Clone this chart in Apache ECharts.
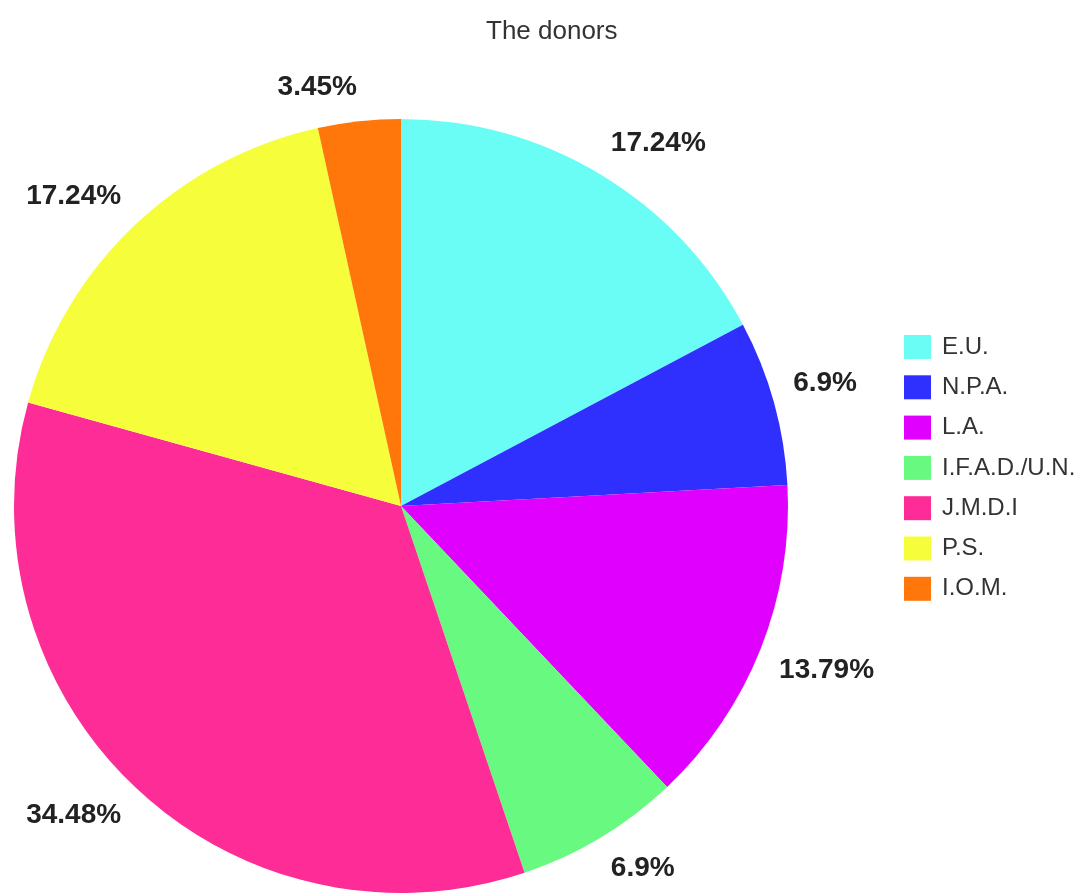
<!DOCTYPE html>
<html>
<head>
<meta charset="utf-8">
<script src="https://cdn.jsdelivr.net/npm/echarts@6/dist/echarts.min.js"></script>
<style>
html,body{margin:0;padding:0;background:#fff;}
#chart{width:1089px;height:895px;}
</style>
</head>
<body>
<div id="chart"></div>
<script>
var categories = ['E.U.', 'N.P.A.', 'L.A.', 'I.F.A.D./U.N.', 'J.M.D.I', 'P.S.', 'I.O.M.'];
var values = [5, 2, 4, 2, 10, 5, 1];
var percentLabels = ['17.24%', '6.9%', '13.79%', '6.9%', '34.48%', '17.24%', '3.45%'];
var colors = ['#6AFDF6', '#3030FE', '#DF00FE', '#68FA80', '#FE2C96', '#F6FE3C', '#FF760A'];

var total = values.reduce(function(a, b){ return a + b; }, 0);
var midAngles = [];
var acc = 0;
values.forEach(function(v){ midAngles.push((acc + v / 2) / total * 2 * Math.PI); acc += v; });

var chart = echarts.init(document.getElementById('chart'));
chart.setOption({
  backgroundColor: '#ffffff',
  animation: false,
  title: {
    text: 'The donors',
    left: 481,
    top: 14,
    textStyle: { fontFamily: 'Liberation Sans, Arial, sans-serif', fontSize: 26, fontWeight: 'normal', color: '#333333' }
  },
  legend: {
    orient: 'vertical',
    left: 899,
    top: 330,
    itemWidth: 27,
    itemHeight: 24,
    itemGap: 16.3,
    icon: 'rect',
    data: categories,
    textStyle: { fontFamily: 'Liberation Sans, Arial, sans-serif', fontSize: 24, color: '#333333', padding: [0, 0, 0, 6] }
  },
  series: [{
    type: 'pie',
    center: [401, 506],
    radius: 387,
    startAngle: 90,
    clockwise: true,
    avoidLabelOverlap: false,
    data: categories.map(function(c, i){
      return { name: c, value: values[i], itemStyle: { color: colors[i] } };
    }),
    label: {
      show: true,
      position: 'outside',
      formatter: function(p){ return percentLabels[p.dataIndex]; },
      fontFamily: 'Liberation Sans, Arial, sans-serif',
      fontSize: 28,
      fontWeight: 'bold',
      color: '#222222',
      distanceToLabelLine: 0
    },
    labelLine: { show: false, length: 20, length2: 0 },
    labelLayout: function(p){
      var a = midAngles[p.dataIndex];
      return { verticalAlign: Math.cos(a) > 0 ? 'bottom' : 'top' };
    },
    emphasis: { disabled: true }
  }]
});
</script>
</body>
</html>
